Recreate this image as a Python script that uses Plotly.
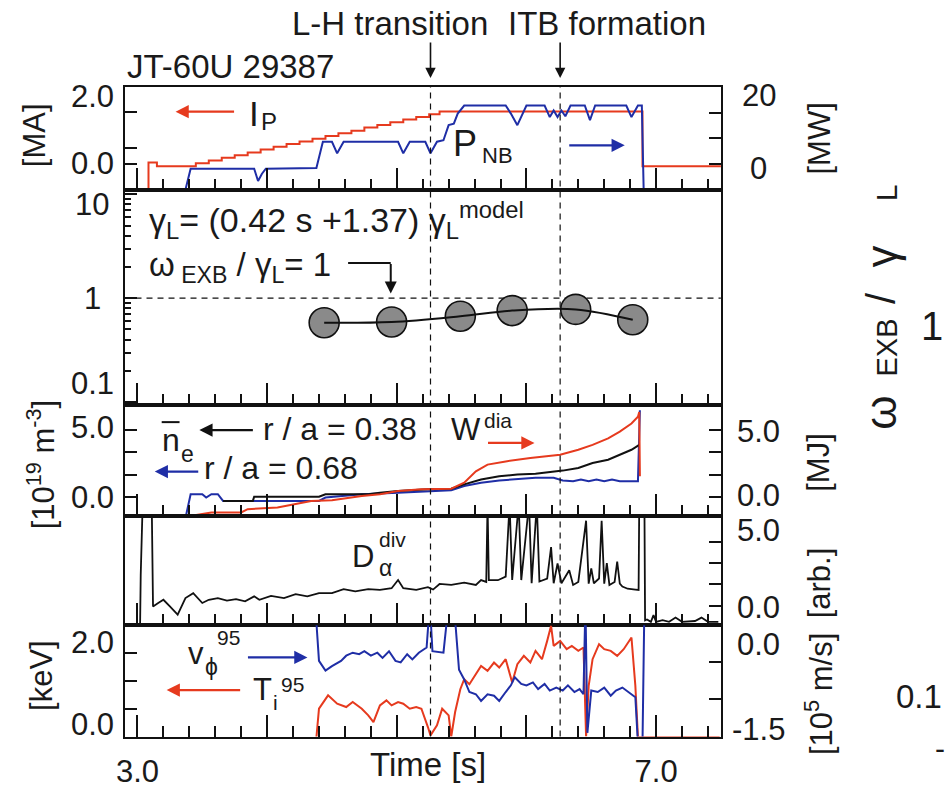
import plotly.graph_objects as go

W, H = 947, 789
FONT = "Liberation Sans, Arial, Helvetica, sans-serif"
RED, BLUE, BLACK, GREY = "#e63a1e", "#1f2ea6", "#111111", "#8a8a8a"

# ---------------- data ----------------
events = [5.26, 6.26]                       # L-H transition, ITB formation [s]
event_names = ["L-H transition", "ITB formation"]

# plasma current [MA]  (time s, value)
ip = [(3.02, -0.8), (3.085, 0.03), (3.15, -0.07), (3.34, -0.07), (3.45, 0.01), (3.55, 0.08),
      (3.65, 0.15), (3.75, 0.22), (3.85, 0.29), (3.95, 0.37), (4.05, 0.44), (4.15, 0.51),
      (4.25, 0.58), (4.35, 0.65), (4.45, 0.72), (4.55, 0.79), (4.65, 0.86), (4.75, 0.94),
      (4.85, 1.01), (4.95, 1.08), (5.05, 1.15), (5.15, 1.22), (5.25, 1.29), (5.33, 1.36),
      (6.895, -0.07), (7.5, -0.07)]
# NB power [MW]
pnb = [(3.36, -8), (3.41, -1.2), (3.90, -1.2), (3.93, -4.4), (3.96, -2.5), (3.99, -1.2),
       (4.38, -1.0), (4.43, 5.8), (4.50, 5.8), (4.54, 2.8), (4.59, 5.8), (5.01, 5.8),
       (5.05, 2.8), (5.10, 5.8), (5.22, 5.8), (5.26, 2.8), (5.31, 5.8), (5.36, 6.2),
       (5.40, 10.1), (5.44, 10.5), (5.47, 13.1), (5.52, 15.2), (5.84, 15.2), (5.88, 13.1),
       (5.93, 10.1), (5.97, 13.1), (6.00, 15.2), (6.14, 15.2), (6.18, 12.2), (6.21, 13.9),
       (6.24, 12.2), (6.27, 13.9), (6.30, 12.4), (6.34, 15.2), (6.45, 15.2), (6.49, 11.4),
       (6.53, 15.2), (6.77, 15.2), (6.81, 12.2), (6.86, 15.2), (6.89, 15.2), (6.905, -8)]
# omega_ExB / gamma_L
gamma_t = [4.44, 4.96, 5.49, 5.89, 6.38, 6.82]
gamma_ratio = [0.58, 0.59, 0.67, 0.76, 0.78, 0.62]
# density at r/a=0.38 and 0.68 [1e19 m^-3], stored energy [MJ]
ne_038 = [(3.66, -0.31), (3.89, -0.31), (3.90, 0.0), (4.40, 0.0), (4.45, 0.19), (4.78, 0.19),
          (4.87, 0.31), (5.01, 0.43), (5.24, 0.56), (5.42, 0.60), (5.52, 0.93), (5.65, 1.30),
          (5.79, 1.54), (5.93, 1.67), (6.07, 1.72), (6.21, 1.86), (6.28, 1.96), (6.40, 2.16),
          (6.51, 2.53), (6.63, 2.78), (6.72, 3.15), (6.81, 3.52), (6.87, 3.89)]
ne_068 = [(3.37, -1.6), (3.41, 0.19), (3.50, 0.19), (3.53, -0.06), (3.57, 0.19), (3.62, 0.19),
          (3.66, -0.31), (4.40, -0.31), (4.45, -0.06), (4.73, 0.19), (5.01, 0.31), (5.24, 0.43),
          (5.42, 0.48), (5.52, 0.80), (5.65, 1.05), (5.79, 1.22), (5.93, 1.30), (6.07, 1.42),
          (6.21, 1.42), (6.28, 1.22), (6.36, 1.17), (6.42, 1.30), (6.48, 1.17), (6.54, 1.30),
          (6.60, 1.17), (6.66, 1.30), (6.72, 1.17), (6.78, 1.17), (6.86, 1.17), (6.875, 6.48)]
w_dia = [(3.37, -1.5), (3.57, -1.17), (3.80, -1.17), (3.85, -0.93), (4.08, -0.80), (4.22, -0.56),
         (4.34, -0.31), (4.50, -0.26), (4.73, 0.06), (4.87, 0.19), (5.01, 0.43), (5.19, 0.56),
         (5.42, 0.60), (5.52, 1.05), (5.61, 1.91), (5.70, 2.41), (5.84, 2.65), (6.03, 2.90),
         (6.26, 3.15), (6.40, 3.52), (6.51, 3.89), (6.63, 4.38), (6.72, 4.88), (6.81, 5.49),
         (6.86, 6.00), (6.87, 6.36), (6.875, 1.54)]
# divertor D-alpha [arb.]
d_alpha = [(3.00, -1.3), (3.02, -1.3), (3.025, 1.8), (3.04, 6.0), (3.11, 6.0), (3.12, -0.04),
           (3.16, 0.16), (3.20, 0.35), (3.25, -0.04), (3.31, -0.52), (3.37, 0.45), (3.43, 0.74),
           (3.50, 0.16), (3.55, 0.35), (3.62, 0.45), (3.69, 0.30), (3.76, 0.39), (3.83, 0.26),
           (3.90, 0.55), (3.94, 0.35), (4.03, 0.58), (4.13, 0.45), (4.22, 0.68), (4.31, 0.55),
           (4.40, 0.74), (4.50, 0.74), (4.59, 0.97), (4.68, 0.84), (4.78, 0.97), (4.87, 0.93),
           (4.96, 1.03), (5.01, 1.51), (5.05, 1.03), (5.15, 0.93), (5.24, 1.09), (5.28, 0.95),
           (5.33, 1.28), (5.42, 1.22), (5.52, 1.36), (5.61, 1.22), (5.65, 1.51), (5.69, 1.40),
           (5.70, 6.0), (5.71, 1.51), (5.78, 1.50), (5.84, 1.71), (5.87, 6.0), (5.89, 1.51),
           (5.94, 6.0), (5.96, 1.51), (6.02, 6.0), (6.04, 1.32), (6.08, 6.0), (6.10, 1.42),
           (6.16, 1.60), (6.19, 3.45), (6.21, 1.32), (6.24, 2.48), (6.27, 1.32), (6.33, 2.09),
           (6.36, 1.22), (6.40, 1.40), (6.46, 5.0), (6.48, 1.30), (6.50, 2.2), (6.52, 1.32),
           (6.56, 1.6), (6.58, 5.0), (6.60, 1.3), (6.62, 2.5), (6.64, 1.22), (6.68, 1.40),
           (6.70, 2.6), (6.72, 1.3), (6.74, 1.13), (6.78, 1.0), (6.84, 0.95), (6.865, 0.93),
           (6.87, 6.0), (6.91, 6.0), (6.915, -0.86), (6.93, -0.81), (6.96, -0.95), (6.98, -0.55),
           (7.00, -0.95), (7.05, -0.85), (7.10, -0.95), (7.15, -0.7), (7.20, -0.95), (7.30, -0.9),
           (7.35, -0.7), (7.40, -0.95), (7.48, -0.95)]
# toroidal rotation at 95% [1e5 m/s] and ion temperature at 95% [keV]
v_phi = [(4.37, 0.3), (4.40, -0.48), (4.45, -0.61), (4.50, -0.55), (4.57, -0.48), (4.61, -0.41),
         (4.66, -0.37), (4.71, -0.39), (4.75, -0.35), (4.80, -0.41), (4.85, -0.37), (4.89, -0.44),
         (4.94, -0.35), (4.99, -0.48), (5.03, -0.50), (5.08, -0.39), (5.12, -0.46), (5.17, -0.37),
         (5.23, -0.30), (5.255, 0.3), (5.275, -0.35), (5.36, -0.37), (5.40, 0.3), (5.44, 0.3),
         (5.48, -0.60), (5.52, -0.73), (5.56, -0.90), (5.61, -0.93), (5.65, -1.02), (5.70, -0.93),
         (5.75, -0.95), (5.79, -1.02), (5.84, -0.90), (5.88, -0.81), (5.91, -0.70), (5.96, -0.79),
         (6.00, -0.81), (6.05, -0.77), (6.09, -0.86), (6.14, -0.79), (6.18, -0.88), (6.23, -0.84),
         (6.28, -0.88), (6.32, -0.81), (6.37, -0.90), (6.41, -0.86), (6.44, -0.93), (6.455, 0.3),
         (6.47, -1.45), (6.50, -0.88), (6.55, -0.90), (6.60, -0.84), (6.65, -0.95), (6.69, -0.88),
         (6.74, -0.84), (6.79, -0.90), (6.84, -0.97), (6.86, -1.6), (6.895, -1.6), (6.91, 0.3)]
t_i = [(4.38, -0.02), (4.40, 0.50), (4.47, 0.74), (4.54, 0.59), (4.61, 0.53), (4.66, 0.62),
       (4.73, 0.50), (4.78, 0.38), (4.82, 0.26), (4.87, 0.56), (4.92, 0.65), (4.96, 0.56),
       (5.01, 0.62), (5.05, 0.59), (5.10, 0.50), (5.15, 0.53), (5.19, 0.50), (5.22, 0.32),
       (5.24, 0.17), (5.26, 0.02), (5.31, 0.20), (5.35, 0.50), (5.40, 0.38), (5.42, 0.0),
       (5.45, 0.44), (5.49, 0.85), (5.52, 1.03), (5.56, 0.94), (5.61, 1.12), (5.65, 1.27),
       (5.70, 1.18), (5.75, 1.33), (5.79, 1.24), (5.84, 1.39), (5.89, 0.97), (5.93, 1.30),
       (5.98, 1.45), (6.03, 1.33), (6.07, 1.54), (6.12, 1.39), (6.16, 1.72), (6.19, 1.99),
       (6.21, 1.63), (6.26, 1.72), (6.31, 1.57), (6.35, 1.63), (6.40, 1.54), (6.44, 1.60),
       (6.46, 0.0), (6.48, 0.91), (6.51, 1.39), (6.56, 1.66), (6.60, 1.57), (6.65, 1.54),
       (6.70, 1.45), (6.75, 1.57), (6.81, 1.78), (6.84, 0.91), (6.86, -0.01), (7.49, -0.01)]

# tick labels
x_tick_vals = [3, 4, 5, 6, 7]
x_tick_text = ["3.0", "", "", "", "7.0"]
left_tick_text = ["2.0", "0.0", "10", "1", "0.1", "5.0", "0.0", "2.0", "0.0"]
right_tick_text = ["20", "0", "5.0", "0.0", "5.0", "0.0", "0.0", "-1.5"]

# ---------------- layout geometry ----------------
X0, X1 = 117.5, 719.0
T_RANGE = [2.9, 7.5]
PANELS = {1: (88, 192), 2: (192, 410), 3: (410, 522), 4: (522, 632.5), 5: (632.5, 745)}
left_tick_py = [98, 165.5, 207, 301.7, 388, 432, 503, 650, 733]
right_tick_py = [97, 170, 436.7, 501.7, 537, 615, 651.7, 738]


def fx(px):
    return px / W


def fy(py):
    return 1 - py / H


def unzip(pairs):
    return [p[0] for p in pairs], [p[1] for p in pairs]


fig = go.Figure()

# panel 1
t, v = unzip(ip)
fig.add_trace(go.Scatter(x=t, y=v, xaxis="x", yaxis="y", mode="lines", line_shape="hv",
                         line=dict(color=RED, width=2)))
t, v = unzip(pnb)
fig.add_trace(go.Scatter(x=t, y=v, xaxis="x", yaxis="y6", mode="lines",
                         line=dict(color=BLUE, width=2)))
# panel 2
fig.add_trace(go.Scatter(x=T_RANGE, y=[1, 1], xaxis="x2", yaxis="y2", mode="lines",
                         line=dict(color=BLACK, width=1.3, dash="6px,5px")))
fig.add_trace(go.Scatter(x=gamma_t, y=gamma_ratio, xaxis="x2", yaxis="y2", mode="markers",
                         marker=dict(size=30, color=GREY, line=dict(color=BLACK, width=1.6))))
fig.add_trace(go.Scatter(x=gamma_t, y=gamma_ratio, xaxis="x2", yaxis="y2", mode="lines",
                         line_shape="spline", line=dict(color=BLACK, width=2)))
# panel 3
t, v = unzip(ne_068)
fig.add_trace(go.Scatter(x=t, y=v, xaxis="x3", yaxis="y3", mode="lines",
                         line=dict(color=BLUE, width=2)))
t, v = unzip(ne_038)
fig.add_trace(go.Scatter(x=t, y=v, xaxis="x3", yaxis="y3", mode="lines",
                         line=dict(color=BLACK, width=2)))
t, v = unzip(w_dia)
fig.add_trace(go.Scatter(x=t, y=v, xaxis="x3", yaxis="y7", mode="lines",
                         line=dict(color=RED, width=2)))
# panel 4
t, v = unzip(d_alpha)
fig.add_trace(go.Scatter(x=t, y=v, xaxis="x4", yaxis="y4", mode="lines",
                         line=dict(color=BLACK, width=1.8)))
# panel 5
t, v = unzip(v_phi)
fig.add_trace(go.Scatter(x=t, y=v, xaxis="x5", yaxis="y8", mode="lines",
                         line=dict(color=BLUE, width=2)))
t, v = unzip(t_i)
fig.add_trace(go.Scatter(x=t, y=v, xaxis="x5", yaxis="y5", mode="lines",
                         line=dict(color=RED, width=2)))

minor_x = [round(3.0 + 0.2 * i, 1) for i in range(23) if i % 5]
axis_common = dict(showgrid=False, zeroline=False, linecolor=BLACK, linewidth=2,
                   tickcolor=BLACK, tickwidth=1.5)

layout = dict(width=W, height=H, margin=dict(l=0, r=0, t=0, b=0), showlegend=False,
              plot_bgcolor="white", paper_bgcolor="white",
              font=dict(family=FONT, color="#1a1a1a"))
for i in range(1, 6):
    key = "xaxis" if i == 1 else f"xaxis{i}"
    layout[key] = dict(axis_common, domain=[fx(X0), fx(X1)], range=T_RANGE,
                       anchor="y" if i == 1 else f"y{i}",
                       showline=True, mirror=True, ticks="inside", ticklen=22,
                       tickmode="array", tickvals=x_tick_vals, ticktext=x_tick_text,
                       showticklabels=(i == 5), tickfont=dict(size=31, family=FONT),
                       ticklabelstandoff=6,
                       minor=dict(ticks="inside", ticklen=11, tickmode="array", tickvals=minor_x,
                                  tickcolor=BLACK, tickwidth=1.5))


def dom(i):
    top, bot = PANELS[i]
    return [fy(bot), fy(top)]


yleft = dict(axis_common, showline=True, mirror=True, ticks="inside", ticklen=12,
             showticklabels=False)
yright = dict(axis_common, showline=False, ticks="inside", ticklen=12, showticklabels=False,
              side="right")
layout["yaxis"] = dict(yleft, domain=dom(1), anchor="x", range=[-0.684, 2.0],
                       tickmode="array", tickvals=[0, 0.4, 1.35])
layout["yaxis6"] = dict(yright, overlaying="y", anchor="x", range=[-6.667, 20.0],
                        tickmode="array", tickvals=[0, 6.667, 13.333])
logminor = [0.2, 0.3, 0.4, 0.5, 0.6, 0.7, 0.8, 0.9, 2, 3, 4, 5, 6, 7, 8, 9]
layout["yaxis2"] = dict(yleft, domain=dom(2), anchor="x2", type="log", range=[-1.031, 1.043],
                        tickmode="array", tickvals=[0.1, 1, 10],
                        minor=dict(ticks="inside", ticklen=6, tickmode="array", tickvals=logminor,
                                   tickcolor=BLACK, tickwidth=1.5))
layout["yaxis3"] = dict(yleft, domain=dom(3), anchor="x3", range=[-1.444, 6.852],
                        tickmode="array", tickvals=[0, 1.667, 3.333, 5.0])
layout["yaxis7"] = dict(yright, overlaying="y3", anchor="x3", range=[-1.444, 6.852],
                        tickmode="array", tickvals=[0, 1.667, 3.333, 5.0])
layout["yaxis4"] = dict(yleft, domain=dom(4), anchor="x4", side="right", range=[-1.151, 5.273],
                        tickmode="array", tickvals=[0, 1.25, 2.5, 3.75])
layout["yaxis5"] = dict(yleft, domain=dom(5), anchor="x5", range=[0, 2.0],
                        tickmode="array", tickvals=[0.5, 1.0, 1.5])
layout["yaxis8"] = dict(yright, overlaying="y5", anchor="x5", range=[-1.5, 0.0],
                        tickmode="array", tickvals=[-1.0, -0.5])
fig.update_layout(**layout)

# event dashed lines and top arrows
for ev in events:
    fig.add_shape(type="line", xref="x5", yref="paper", x0=ev, x1=ev, y0=fy(745), y1=fy(88),
                  line=dict(color=BLACK, width=1.2, dash="6px,5px"))
    fig.add_annotation(x=ev, y=fy(79), xref="x5", yref="paper", ax=0, ay=-37, axref="pixel",
                       ayref="pixel", text="", showarrow=True, arrowhead=2, arrowsize=1.3,
                       arrowwidth=1.6, arrowcolor=BLACK)


def txt(s, px, py, size=31, anchor="center", color="#1a1a1a", angle=0):
    fig.add_annotation(text=s, x=fx(px), y=fy(py), xref="paper", yref="paper", showarrow=False,
                       xanchor=anchor, yanchor="middle", textangle=angle,
                       font=dict(size=size, family=FONT, color=color))


def arrow(x_head, x_tail, py, color):
    fig.add_annotation(x=fx(x_head), y=fy(py), xref="paper", yref="paper", text="",
                       ax=x_tail - x_head, ay=0, axref="pixel", ayref="pixel", showarrow=True,
                       arrowhead=2, arrowsize=1.2, arrowwidth=2.2, arrowcolor=color)


# tick labels
for s, py in zip(left_tick_text, left_tick_py):
    txt(s, 85, py)
for s, py in zip(right_tick_text, right_tick_py):
    txt(s, 757, py)

# top texts
txt(event_names[0], 385, 24, 33)
txt(event_names[1], 604, 24, 33)
txt("JT-60U 29387", 118, 67, 33, anchor="left")

# panel 1 labels
arrow(169, 229, 113, RED)
txt("I", 248, 115, 35)
txt("P", 263, 123, 24)
txt("P", 461, 145, 36)
txt("NB", 494, 157, 22)
arrow(622, 565, 147, BLUE)

# panel 2 labels
txt("γ<sub>L</sub>= (0.42 s +1.37) γ<sub>L</sub><sup>model</sup>", 140, 223, 34, anchor="left")
txt("ω<sub> EXB</sub> / γ<sub>L</sub>= 1", 140, 270, 33, anchor="left")
fig.add_shape(type="line", xref="paper", yref="paper", x0=fx(343), x1=fx(386), y0=fy(266),
              y1=fy(266), line=dict(color=BLACK, width=2))
fig.add_annotation(x=fx(386), y=fy(297), xref="paper", yref="paper", text="", ax=0, ay=-31,
                   axref="pixel", ayref="pixel", showarrow=True, arrowhead=2, arrowsize=1.2,
                   arrowwidth=2, arrowcolor=BLACK)

# panel 3 labels
txt("n", 164, 445, 32)
fig.add_shape(type="line", xref="paper", yref="paper", x0=fx(155), x1=fx(173), y0=fy(427),
              y1=fy(427), line=dict(color=BLACK, width=2))
txt("e", 181, 459, 23)
arrow(193, 248, 435, BLACK)
txt("r / a = 0.38", 335, 434, 32)
arrow(148, 193, 477, BLUE)
txt("r / a = 0.68", 275, 473, 32)
txt("W", 462, 434, 31)
txt("dia", 494, 425, 21)
arrow(531, 483, 448, RED)

# panel 4 labels
txt("D", 358, 563, 31)
txt("div", 388, 546, 21)
txt("α", 381, 575, 23)

# panel 5 labels
txt("v", 190, 661, 31)
txt("ϕ", 205, 675, 23)
txt("95", 222, 645, 21)
arrow(302, 241, 665, BLUE)
txt("T", 257, 697, 31)
txt("i", 270, 711, 21)
txt("95", 287, 692, 21)
arrow(160, 235, 698, RED)

# axis titles
txt("Time [s]", 424, 773, 33)
txt("[MA]", 27, 137, 31, angle=-90)
txt("[10<sup>19</sup> m<sup>-3</sup>]", 33, 470, 31, angle=-90)
txt("[keV]", 33, 683, 31, angle=-90)
txt("[MW]", 818, 140, 31, angle=-90)
txt("[MJ]", 818, 468, 31, angle=-90)
txt("[arb.]", 818, 590, 31, angle=-90)
txt("[10<sup>5</sup> m/s]", 818, 702, 31, angle=-90)

# neighbouring figure (partly visible at the right edge)
txt("ω", 880, 418, 44, angle=-90)
txt("EXB", 886, 352, 29, angle=-90)
txt("/", 880, 302, 40, angle=-90)
txt("γ", 880, 260, 44, angle=-90)
txt("L", 886, 195, 30, angle=-90)
txt("1", 932, 330, 40)
txt("0.1", 944, 705, 33, anchor="right")
txt("-", 940, 757, 30)

fig.write_html("out.html")
